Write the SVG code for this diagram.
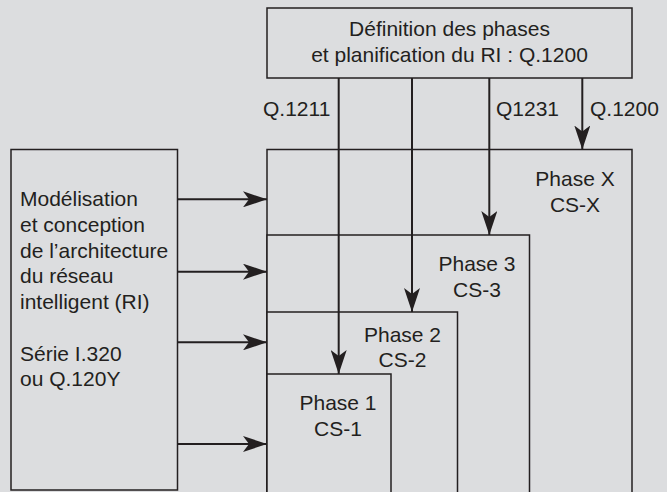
<svg xmlns="http://www.w3.org/2000/svg" width="667" height="492" viewBox="0 0 667 492">
<style>
.fill{fill:#dcdddf;stroke:#231f20;stroke-width:1.5}
.conn{stroke:#231f20;stroke-width:2;fill:none;marker-end:url(#ah)}
text{font-family:"Liberation Sans",Arial,sans-serif;font-size:21px;fill:#231f20}
.c{text-anchor:middle}
</style>
<defs>
<marker id="ah" markerUnits="userSpaceOnUse" viewBox="0 0 24 16" refX="24" refY="8" markerWidth="24" markerHeight="16" orient="auto">
<path d="M24,8 L0,0 L6,8 L0,16 Z" fill="#231f20"/>
</marker>
</defs>
<rect width="667" height="492" fill="#dcdddf"/>
<g id="phaseX">
<rect class="fill" x="267" y="149.5" width="365" height="350"/>
<text class="c" x="575" y="186">Phase X</text>
<text class="c" x="575" y="212">CS-X</text>
</g>
<g id="phase3">
<rect class="fill" x="267" y="235" width="262.5" height="270"/>
<text class="c" x="477" y="271">Phase 3</text>
<text class="c" x="477" y="296.5">CS-3</text>
</g>
<g id="phase2">
<rect class="fill" x="267" y="312" width="190.5" height="200"/>
<text class="c" x="402.5" y="342">Phase 2</text>
<text class="c" x="402.5" y="367">CS-2</text>
</g>
<g id="phase1">
<rect class="fill" x="267" y="374" width="124" height="150"/>
<text class="c" x="338" y="410">Phase 1</text>
<text class="c" x="338" y="436">CS-1</text>
</g>
<g id="top">
<rect class="fill" x="267" y="8" width="365" height="70"/>
<text class="c" x="449.5" y="35.5">Définition des phases</text>
<text class="c" x="449.5" y="62">et planification du RI : Q.1200</text>
</g>
<g id="left">
<rect class="fill" x="11" y="149.5" width="166.5" height="340.5"/>
<text x="20" y="206">Modélisation</text>
<text x="20" y="231.7">et conception</text>
<text x="20" y="257.5">de l’architecture</text>
<text x="20" y="283.2">du réseau</text>
<text x="20" y="309">intelligent (RI)</text>
<text x="20" y="360.5">Série I.320</text>
<text x="20" y="386">ou Q.120Y</text>
</g>
<g id="connectors">
<line class="conn" x1="338.7" y1="78" x2="338.7" y2="374"/>
<line class="conn" x1="412" y1="78" x2="412" y2="312"/>
<line class="conn" x1="489.3" y1="78" x2="489.3" y2="235"/>
<line class="conn" x1="582.3" y1="78" x2="582.3" y2="149.5"/>
<line class="conn" x1="177.5" y1="199.3" x2="267" y2="199.3"/>
<line class="conn" x1="177.5" y1="271.7" x2="267" y2="271.7"/>
<line class="conn" x1="177.5" y1="342.3" x2="267" y2="342.3"/>
<line class="conn" x1="177.5" y1="444" x2="267" y2="444"/>
</g>
<g id="labels">
<text x="263" y="115.5">Q.1211</text>
<text x="496" y="115.5">Q1231</text>
<text x="590" y="115.5">Q.1200</text>
</g>
</svg>
